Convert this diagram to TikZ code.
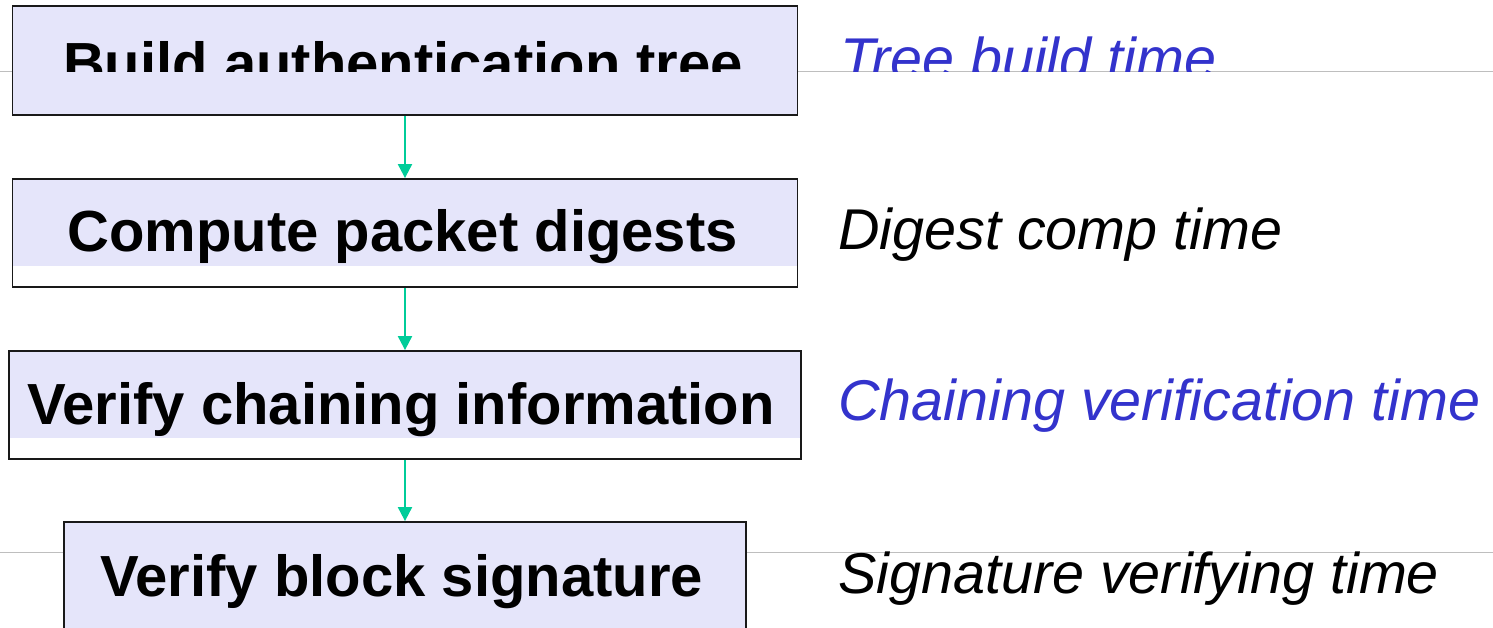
\documentclass[tikz,border=0pt]{standalone}
\usepackage{fontspec}
\setmainfont{Liberation Sans}
\usetikzlibrary{arrows.meta}
\definecolor{boxfill}{RGB}{229,229,250}
\definecolor{flowgreen}{RGB}{0,204,153}
\definecolor{labelblue}{RGB}{51,51,204}
\definecolor{rulegray}{RGB}{190,190,190}
\begin{document}
\begin{tikzpicture}[x=1pt,y=-1pt,
  stepfont/.style={font=\fontsize{58}{70}\selectfont\bfseries},
  stepbox/.style={draw=black!90, line width=1.8pt, rectangle, inner sep=0pt,
    stepfont, text height=45pt, text depth=7pt},
  fullfill/.style={fill=boxfill},
  partfill/.style={path picture={\fill[boxfill] (path picture bounding box.north west)
    rectangle ([yshift=#1]path picture bounding box.south east);}},
  timelabel/.style={anchor=base west, inner sep=0pt, font=\fontsize{57.5}{70}\selectfont\itshape},
  flow/.style={draw=flowgreen, line width=2pt, -{Triangle[width=14pt,length=14pt]}},
  rule/.style={draw=rulegray, line width=1pt}]

\useasboundingbox (0,0) rectangle (1493,628);

% thin horizontal rules running behind the boxes
\draw[rule] (0,72) -- (1493,72);
\draw[rule] (0,552) -- (1493,552);

% processing steps
\node[stepbox, fullfill, minimum width=785pt, minimum height=109pt] (tree) at (405,60.5) {};
\begin{scope}
  \clip (0,0) rectangle (1493,71.5);
  \node[stepfont, anchor=base, inner sep=0pt] (treetext) at (403,84) {Build authentication tree};
  \node[timelabel, text=labelblue] (treetime) at (840,79) {Tree build time};
\end{scope}

\node[stepbox, partfill=21pt, minimum width=785pt, minimum height=108pt] (digest) at (405,233) {Compute packet digests\hspace*{5pt}};
\node[stepbox, partfill=21pt, minimum width=792pt, minimum height=108pt] (chain) at (405,405) {Verify chaining information\hspace*{8pt}};
\node[stepbox, fullfill, minimum width=682pt, minimum height=110pt] (sig) at (405,577) {Verify block signature\hspace*{7pt}};

% timing labels
\node[timelabel] (digesttime) at (838,250) {Digest comp time};
\node[timelabel, text=labelblue] (chaintime) at (838,420) {Chaining verification time};
\node[timelabel] (sigtime) at (838,593) {Signature verifying time};

% flow arrows
\draw[flow] (tree.south) -- (digest.north);
\draw[flow] (digest.south) -- (chain.north);
\draw[flow] (chain.south) -- (sig.north);
\end{tikzpicture}
\end{document}
